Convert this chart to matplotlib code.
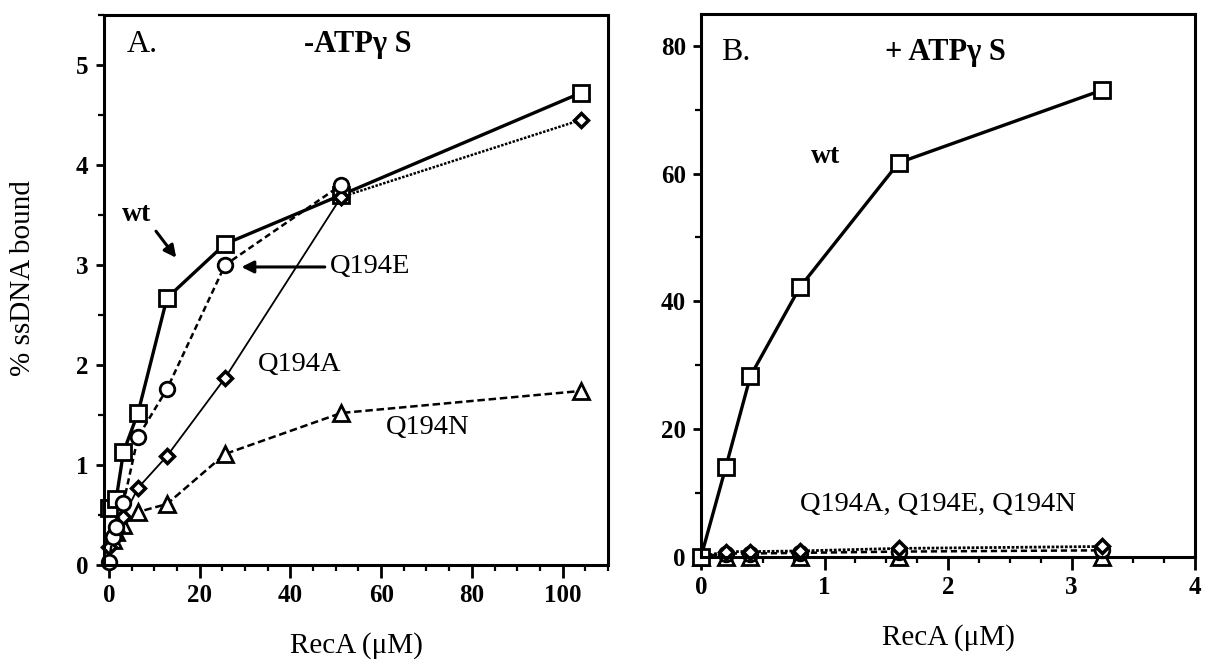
import matplotlib
matplotlib.use("Agg")
import matplotlib.pyplot as plt
from matplotlib.ticker import MultipleLocator

plt.rcParams['font.family'] = ['Liberation Serif', 'DejaVu Serif']

# panel A: no ATPgS, RecA in uM
a_wt_x = [0, 1.6, 3.2, 6.4, 12.8, 25.6, 51.2, 104]
a_wt_y = [0.57, 0.66, 1.13, 1.52, 2.67, 3.21, 3.70, 4.72]
a_e_x = [0, 0.8, 1.6, 3.2, 6.4, 12.8, 25.6, 51.2]
a_e_y = [0.03, 0.28, 0.38, 0.62, 1.28, 1.76, 3.00, 3.80]
a_a_x = [0, 0.8, 1.6, 3.2, 6.4, 12.8, 25.6, 51.2, 104]
a_a_y = [0.18, 0.28, 0.34, 0.48, 0.77, 1.09, 1.87, 3.68, 4.45]
a_n_x = [0.8, 1.6, 3.2, 6.4, 12.8, 25.6, 51.2, 104]
a_n_y = [0.25, 0.33, 0.40, 0.53, 0.61, 1.11, 1.52, 1.74]

# panel B: + ATPgS
b_x = [0, 0.2, 0.4, 0.8, 1.6, 3.25]
b_wt_y = [0, 14.0, 28.3, 42.2, 61.7, 73.1]
b_a_y = [0, 0.8, 0.8, 0.9, 1.3, 1.6]
b_e_y = [0, 0.5, 0.5, 0.6, 0.8, 1.0]
b_n_y = [0, 0, 0, 0, 0, 0]

fig = plt.figure(figsize=(12.06, 6.68), dpi=100)
axA = fig.add_axes([0.0862, 0.1542, 0.4179, 0.8234])
axB = fig.add_axes([0.5813, 0.1666, 0.4096, 0.8124])

sq = dict(marker='s', ms=12, mfc='white', mec='black', mew=2, color='black', clip_on=False)
ci = dict(marker='o', ms=10.5, mfc='white', mec='black', mew=2, color='black', clip_on=False)
di = dict(marker='D', ms=7.5, mfc='white', mec='black', mew=2.5, color='black', clip_on=False)
tr = dict(marker='^', ms=11, mfc='white', mec='black', mew=2, color='black', clip_on=False)

# panel A
axA.plot(a_n_x, a_n_y, ls=(0, (3, 1.5)), lw=1.8, **tr)
axA.plot(a_a_x[-2:], a_a_y[-2:], ls=(0, (1, 0.6)), lw=1.8, **di)
axA.plot(a_a_x[:-1], a_a_y[:-1], ls='-', lw=1.3, **di)
axA.plot(a_e_x, a_e_y, ls=(0, (2.5, 1.5)), lw=1.8, **ci)
axA.plot(a_wt_x, a_wt_y, ls='-', lw=2.4, zorder=1.9, **sq)

axA.set_xlim(-1.1, 110)
axA.set_ylim(0, 5.5)
axA.xaxis.set_major_locator(MultipleLocator(20))
axA.xaxis.set_minor_locator(MultipleLocator(5))
axA.yaxis.set_major_locator(MultipleLocator(1))
axA.yaxis.set_minor_locator(MultipleLocator(0.5))
axA.set_xlabel('RecA (μM)', fontsize=21, labelpad=18)
fig.text(23 / 1206, 0.584, '% ssDNA bound', fontsize=21, rotation=90,
         ha='center', va='center')

axA.text(3.9, 5.2, 'A.', fontsize=23, ha='left', va='center')
axA.text(54.8, 5.2, '-ATPγ S', fontsize=22, fontweight='bold', ha='center', va='center')
axA.text(6, 3.5, 'wt', fontsize=20, fontweight='bold', ha='center', va='center')
axA.annotate('', xy=(15.2, 3.05), xytext=(10.0, 3.36),
             arrowprops=dict(arrowstyle='-|>', color='black', lw=2.2, mutation_scale=18))
axA.annotate('Q194E', xy=(29.2, 2.98), xytext=(48.8, 2.98), fontsize=20.5,
             ha='left', va='center',
             arrowprops=dict(arrowstyle='-|>', color='black', lw=2.2, mutation_scale=18,
                             shrinkA=2, shrinkB=0))
axA.text(32.8, 2.0, 'Q194A', fontsize=20.5, ha='left', va='center')
axA.text(61, 1.37, 'Q194N', fontsize=20.5, ha='left', va='center')

# panel B
axB.plot(b_x, b_n_y, ls='-', lw=2, **tr)
axB.plot(b_x, b_e_y, ls=(0, (2.5, 1.5)), lw=1.8, **ci)
axB.plot(b_x, b_a_y, ls=(0, (1, 0.6)), lw=2, **di)
axB.plot(b_x, b_wt_y, ls='-', lw=2.4, **sq)

axB.set_xlim(0, 4)
axB.set_ylim(0, 85)
axB.xaxis.set_major_locator(MultipleLocator(1))
axB.xaxis.set_minor_locator(MultipleLocator(0.25))
axB.yaxis.set_major_locator(MultipleLocator(20))
axB.yaxis.set_minor_locator(MultipleLocator(10))
axB.set_xlabel('RecA (μM)', fontsize=21, labelpad=18)

axB.text(0.16, 79, 'B.', fontsize=23, ha='left', va='center')
axB.text(1.98, 79, '+ ATPγ S', fontsize=22, fontweight='bold', ha='center', va='center')
axB.text(1.01, 62.7, 'wt', fontsize=20, fontweight='bold', ha='center', va='center')
axB.text(1.92, 8.2, 'Q194A, Q194E, Q194N', fontsize=20.5, ha='center', va='center')

for ax in (axA, axB):
    for s in ax.spines.values():
        s.set_linewidth(2.2)
    ax.tick_params(which='major', direction='out', length=9, width=2, labelsize=18, pad=5)
    ax.tick_params(which='minor', direction='out', length=4.5, width=1.6)
    ax.tick_params(axis='y', which='major', length=6)
    ax.tick_params(axis='y', which='minor', length=4)
    for lab in ax.get_xticklabels() + ax.get_yticklabels():
        lab.set_fontweight('bold')

fig.savefig('out.png', dpi=100)
